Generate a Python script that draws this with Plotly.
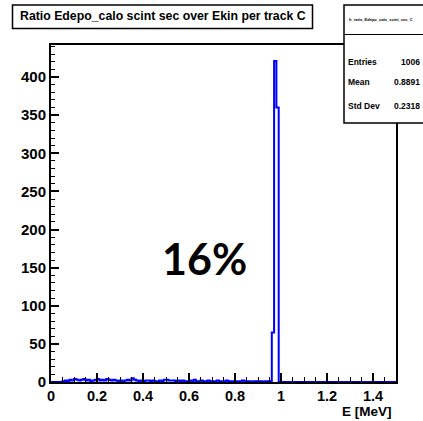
import plotly.graph_objects as go

# ---- data ----
bin_width = 0.01
n_bins = 150
counts = [
    0, 0, 0, 0, 0, 1, 2, 1, 3, 2,
    4, 3, 2, 3, 4, 2, 3, 1, 2, 3,
    4, 2, 3, 2, 4, 3, 2, 3, 2, 1,
    2, 1, 2, 3, 2, 5, 3, 2, 1, 2,
    1, 2, 2, 1, 2, 1, 1, 2, 1, 3,
    3, 2, 2, 2, 1, 2, 1, 2, 1, 1,
    2, 1, 3, 1, 1, 2, 1, 1, 2, 1,
    1, 1, 2, 1, 1, 1, 2, 1, 1, 1,
    1, 1, 1, 2, 1, 1, 1, 0, 1, 1,
    1, 1, 0, 1, 1, 1, 65, 421, 360, 0,
    0, 0, 0, 0, 0, 0, 0, 0, 0, 0,
    0, 0, 0, 0, 0, 0, 0, 0, 0, 0,
    0, 0, 0, 0, 0, 0, 0, 0, 0, 0,
    0, 0, 0, 0, 0, 0, 0, 0, 0, 0,
    0, 0, 0, 0, 0, 0, 0, 0, 0, 0,
]
edges = [round(i * bin_width, 4) for i in range(n_bins + 1)]

title_text = "Ratio Edepo_calo scint sec over Ekin per track C"
hist_name = "h_ratio_Edepo_calo_scint_sec_C"
stats_labels = ["Entries", "Mean", "Std Dev"]
stats_values = ["1006", "0.8891", "0.2318"]
x_title = "E [MeV]"
big_label = "16%"

# ---- layout geometry (pixels) ----
W, H = 423, 421
L, R, T, B = 51, 27, 45, 39
pw, ph = W - L - R, H - T - B


def px(x):
    return (x - L) / pw


def py(y):
    return (H - B - y) / ph


fig = go.Figure()
fig.add_trace(go.Scatter(
    x=edges, y=counts + [counts[-1]], mode="lines",
    line=dict(shape="hv", color="#0000ff", width=2),
    showlegend=False, hoverinfo="skip",
))

ytickfont = dict(family="Liberation Sans, Arial", size=15, color="black", weight="bold")
xtickfont = dict(family="Liberation Sans, Arial", size=14.5, color="black", weight="bold")

fig.update_layout(
    width=W, height=H,
    margin=dict(l=L, r=R, t=T, b=B),
    paper_bgcolor="white", plot_bgcolor="white",
    xaxis=dict(
        range=[0, 1.5], tick0=0, dtick=0.2, ticks="inside", ticklen=9, tickwidth=1.5,
        tickcolor="black", showline=True, linecolor="black", linewidth=2, mirror=True,
        showgrid=False, zeroline=False, tickfont=xtickfont,
        minor=dict(dtick=0.05, ticks="inside", ticklen=5, tickcolor="black", tickwidth=1.2, showgrid=False),
    ),
    yaxis=dict(
        range=[0, 442], tick0=0, dtick=50, ticks="inside", ticklen=8, tickwidth=1.5,
        tickcolor="black", showline=True, linecolor="black", linewidth=2, mirror=True,
        showgrid=False, zeroline=False, tickfont=ytickfont,
        minor=dict(dtick=10, ticks="inside", ticklen=4, tickcolor="black", tickwidth=1.2, showgrid=False),
    ),
)

shapes = []
# title box
shapes.append(dict(type="rect", xref="paper", yref="paper",
                   x0=px(12.5), x1=px(312.5), y0=py(28.5), y1=py(5),
                   line=dict(color="black", width=1.5), fillcolor="white", layer="above"))
# stats box
shapes.append(dict(type="rect", xref="paper", yref="paper",
                   x0=px(344), x1=px(440), y0=py(123), y1=py(5),
                   line=dict(color="black", width=1.5), fillcolor="white", layer="above"))
shapes.append(dict(type="line", xref="paper", yref="paper",
                   x0=px(344), x1=px(440), y0=py(34.5), y1=py(34.5),
                   line=dict(color="black", width=1)))
fig.update_layout(shapes=shapes)

annotations = []
annotations.append(dict(text=title_text, xref="paper", yref="paper",
                        x=px(163), y=py(16.5), xanchor="center", yanchor="middle",
                        showarrow=False,
                        font=dict(family="Liberation Sans, Arial", size=12.3, color="black", weight="bold")))
annotations.append(dict(text=hist_name, xref="paper", yref="paper",
                        x=px(347), y=py(19.5), xanchor="left", yanchor="middle",
                        showarrow=False,
                        font=dict(family="Liberation Sans, Arial", size=4, color="black", weight="bold")))
for lab, val, yy in zip(stats_labels, stats_values, [62, 82, 106]):
    annotations.append(dict(text=lab, xref="paper", yref="paper",
                            x=px(346), y=py(yy), xanchor="left", yanchor="middle",
                            showarrow=False,
                            font=dict(family="Liberation Sans, Arial", size=8.5, color="black", weight="bold")))
    annotations.append(dict(text=val, xref="paper", yref="paper",
                            x=px(422), y=py(yy), xanchor="right", yanchor="middle",
                            showarrow=False,
                            font=dict(family="Liberation Sans, Arial", size=8.5, color="black", weight="bold")))
annotations.append(dict(text=x_title, xref="paper", yref="paper",
                        x=px(394), y=py(411.5), xanchor="right", yanchor="middle",
                        showarrow=False,
                        font=dict(family="Liberation Sans, Arial", size=13.5, color="black", weight="bold")))
annotations.append(dict(text=big_label, xref="paper", yref="paper",
                        x=px(204), y=py(258), xanchor="center", yanchor="middle",
                        showarrow=False,
                        font=dict(family="Lato, Open Sans", size=43, color="black", weight="bold")))
fig.update_layout(annotations=annotations)

fig.write_html("out.html")
